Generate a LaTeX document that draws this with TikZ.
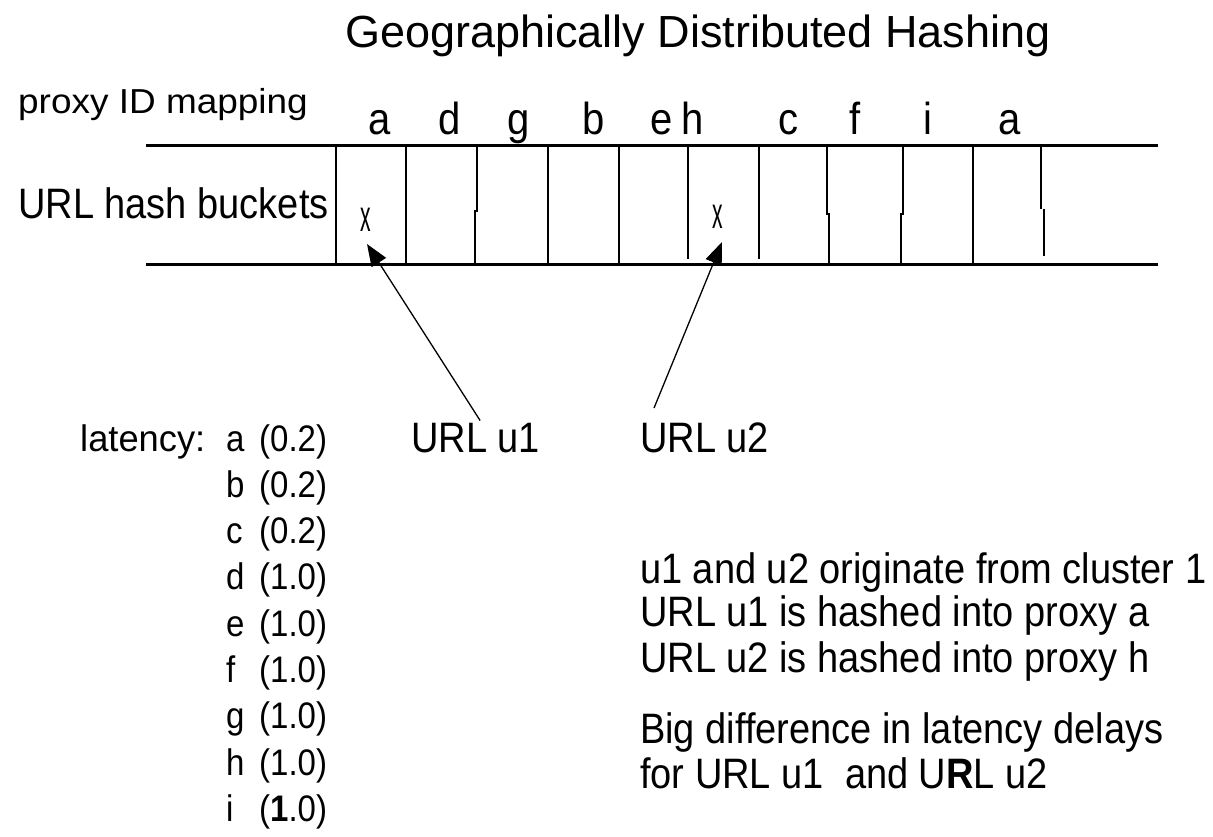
\documentclass[tikz,border=0pt]{standalone}
\usepackage{fontspec}
\setmainfont{Liberation Sans}
\usetikzlibrary{arrows.meta}
% taller glyphs, baseline kept in place
\newcommand\tallglyphs[1]{\scalebox{1}[1.12]{#1}}
\begin{document}
\begin{tikzpicture}[x=1pt,y=-1pt,
  lbl/.style={inner sep=0pt, anchor=base west, font=\fontsize{38}{40}\selectfont},
  listlbl/.style={inner sep=0pt, anchor=base west, font=\fontsize{33}{36}\selectfont},
  idlbl/.style={inner sep=0pt, anchor=base, font=\fontsize{40}{42}\selectfont},
  entry/.style={inner sep=0pt, anchor=base, font=\fontsize{34}{36}\selectfont},
  rail/.style={line width=3pt},
  divider/.style={line width=2.4pt},
  pointer/.style={line width=1.3pt, -{Triangle[length=22pt,width=17pt]}}]
\useasboundingbox (0,0) rectangle (1213,836);

% title
\node[lbl, font=\fontsize{45}{48}\selectfont] (title) at (345,47) {Geographically Distributed Hashing};

% row labels
\node[lbl, font=\fontsize{33}{35}\selectfont] (maplbl) at (18,113) {\scalebox{1.12}[1.05]{proxy ID mapping}};
\node[lbl] (hashlbl) at (18,218) {\tallglyphs{URL hash buckets}};

% proxy id of each bucket
\foreach \n/\x/\t in {p1/380/a, p2/450/d, p3/519/g, p4/594/b, p5/662/e,
                      p6/693/h, p7/788/c, p8/855/f, p9/928/i, p10/1010/a}
  \node[idlbl] (\n) at (\x,134) {\tallglyphs{\t}};

% bucket strip
\draw[rail] (146,145) -- (1158,145);
\draw[rail] (146,264) -- (1158,264);
\foreach \x in {336,406,548,619,973}
  \draw[divider] (\x,145) -- (\x,264);
\foreach \x in {688,759}
  \draw[divider] (\x,145) -- (\x,259);
\draw[divider] (477,145) -- (477,211) -- (475,211) -- (475,264);
\draw[divider] (827,145) -- (827,214) -- (829,214) -- (829,264);
\draw[divider] (903,145) -- (903,214) -- (901,214) -- (901,264);
\draw[divider] (1041,145) -- (1041,209);
\draw[divider] (1044,209) -- (1044,256);

% hashed entries
\node[entry] (xa) at (366,231) {\scalebox{0.62}[1.3]{x}};
\node[entry] (xh) at (718,228) {\scalebox{0.62}[1.3]{x}};
\coordinate (hita) at (367,244);
\coordinate (hith) at (722,242);

% URLs
\node[lbl] (u1) at (411,452) {\tallglyphs{URL u1}};
\node[lbl] (u2) at (640,452) {\tallglyphs{URL u2}};
\draw[pointer] ([xshift=4.5pt,yshift=2pt]u1.north) -- (hita);
\draw[pointer] ([xshift=14pt,yshift=14pt]u2.north west) -- (hith);

% latency table
\node[listlbl] (lat) at (80,451) {\scalebox{1.1}[1.12]{latency:}};
\foreach \n/\t/\v [count=\i from 0] in {la/a/0.2, lb/b/0.2, lc/c/0.2, ld/d/1.0, le/e/1.0,
                                       lf/f/1.0, lg/g/1.0, lh/h/1.0, li/i/{\textbf{1}.0}}
  \node[listlbl] (\n) at (226,451+46.3*\i) {\tallglyphs{\makebox[33pt][l]{\t}(\v)}};

% notes
\node[lbl] (n1) at (640,583) {\tallglyphs{u1 and u2 originate from cluster 1}};
\node[lbl] (n2) at (640,626) {\tallglyphs{URL u1 is hashed into proxy a}};
\node[lbl] (n3) at (640,672) {\tallglyphs{URL u2 is hashed into proxy h}};
\node[lbl] (n4) at (640,743) {\tallglyphs{Big difference in latency delays}};
\node[lbl] (n5) at (640,788) {\tallglyphs{for URL u1\ \ and U\textbf{R}L u2}};
\end{tikzpicture}
\end{document}
